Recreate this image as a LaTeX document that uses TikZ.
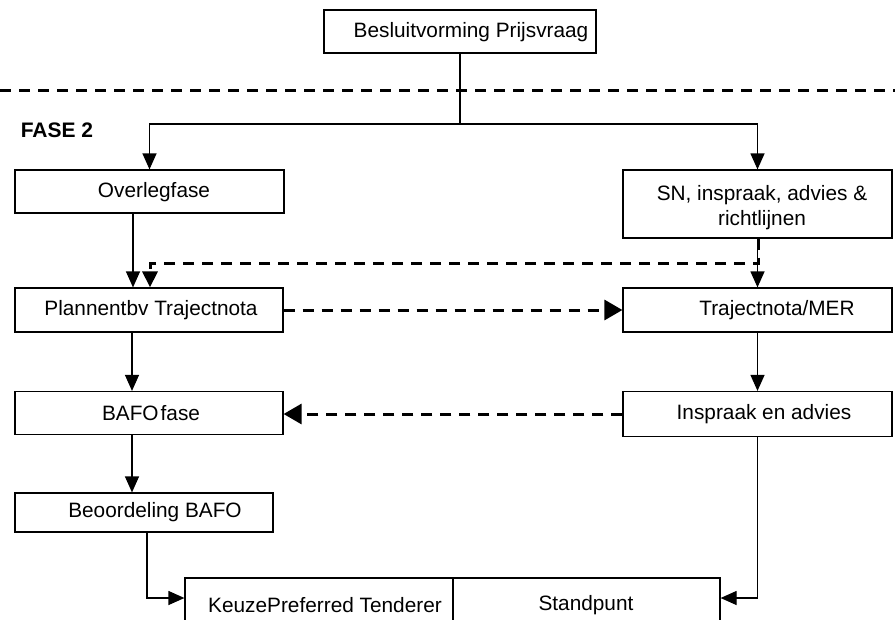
\documentclass[tikz,border=0pt]{standalone}
\usepackage{fontspec}
\setmainfont{Liberation Sans}
\usetikzlibrary{arrows.meta}
\tikzset{
  box/.style={draw, line width=1.2pt, inner sep=0pt},
  lbl/.style={inner sep=0pt, font=\fontsize{20.8}{25}\selectfont, align=center},
  conn/.style={line width=1.2pt},
  arr/.style={conn, -{Triangle[length=16pt,width=14pt]}},
  dline/.style={line width=3pt, dash pattern=on 11pt off 8pt},
  darr/.style={dline, -{Triangle[length=18pt,width=20pt]}},
}
\begin{document}
\begin{tikzpicture}[x=1pt,y=-1pt]
\useasboundingbox (0,0) rectangle (895,619);
\clip (0,0) rectangle (895,619);
\fill[white] (0,0) rectangle (895,619);

% separator
\coordinate (sepL) at (0,90);
\coordinate (sepR) at (895,90);
\draw[dline] (sepL) -- (sepR);
\node[inner sep=0pt, font=\fontsize{21}{25}\selectfont\bfseries] (fase) at (57,130) {FASE 2};

% boxes
\node[box, minimum width=272pt, minimum height=43pt] (bes) at (460,31.5) {};
\node[box, minimum width=269pt, minimum height=43pt] (ov) at (149.5,191.5) {};
\node[box, minimum width=269pt, minimum height=68pt] (sn) at (757.5,204) {};
\node[box, minimum width=268pt, minimum height=44pt] (pl) at (149,310) {};
\node[box, minimum width=269pt, minimum height=44pt] (tm) at (757.5,310) {};
\node[box, minimum width=268pt, minimum height=43pt] (bf) at (149,413) {};
\node[box, minimum width=269pt, minimum height=45pt] (ia) at (757.5,414) {};
\node[box, minimum width=258pt, minimum height=39pt] (bo) at (144,512.5) {};
\node[box, minimum width=268pt, minimum height=62pt] (ke) at (319,609) {};
\node[box, minimum width=267pt, minimum height=62pt] (st) at (586.5,609) {};

% texts
\node[lbl] (besT) at (471,32) {Besluitvorming Prijsvraag};
\node[lbl] (ovT) at (154,192) {Overlegfase};
\node[lbl] (snT) at (762,207.5) {SN, inspraak, advies \&\\richtlijnen};
\node[lbl] (plT) at (151,310) {Plannentbv Trajectnota};
\node[lbl] (tmT) at (777,310) {Trajectnota/MER};
\node[lbl] (bfT) at (151,413) {BAFO\kern2pt fase};
\node[lbl] (iaT) at (764,414) {Inspraak en advies};
\node[lbl] (boT) at (155,512) {Beoordeling BAFO};
\node[lbl] (keT) at (325,605) {KeuzePreferred Tenderer};
\node[lbl] (stT) at (586,605) {Standpunt};

% connectors
\coordinate (split) at (460,124);
\draw[conn] (bes.south) -- (split);
\draw[arr] (split) -| (ov.north);
\draw[arr] (split) -| (sn.north);
\draw[arr] ([xshift=-16.5pt]ov.south) -- ([xshift=-16pt]pl.north);
\draw[dline, -{Triangle[length=16pt,width=15pt]}] ([xshift=0.5pt]sn.south) -- ++(0,25) -| ([xshift=1pt]pl.north);
\draw[arr] (sn.south) -- (tm.north);
\draw[darr] (pl.east) -- (tm.west);
\draw[arr] ([xshift=-17pt]pl.south) -- ([xshift=-17pt]bf.north);
\draw[arr] (tm.south) -- (ia.north);
\draw[darr] (ia.west) -- (ia.west -| bf.east);
\draw[arr] ([xshift=-17pt]bf.south) -- ([xshift=-12pt]bo.north);
\draw[arr] ([xshift=3pt]bo.south) |- ([yshift=11pt]ke.west);
\draw[arr] (ia.south) |- ([yshift=11pt]st.east);
\end{tikzpicture}
\end{document}
